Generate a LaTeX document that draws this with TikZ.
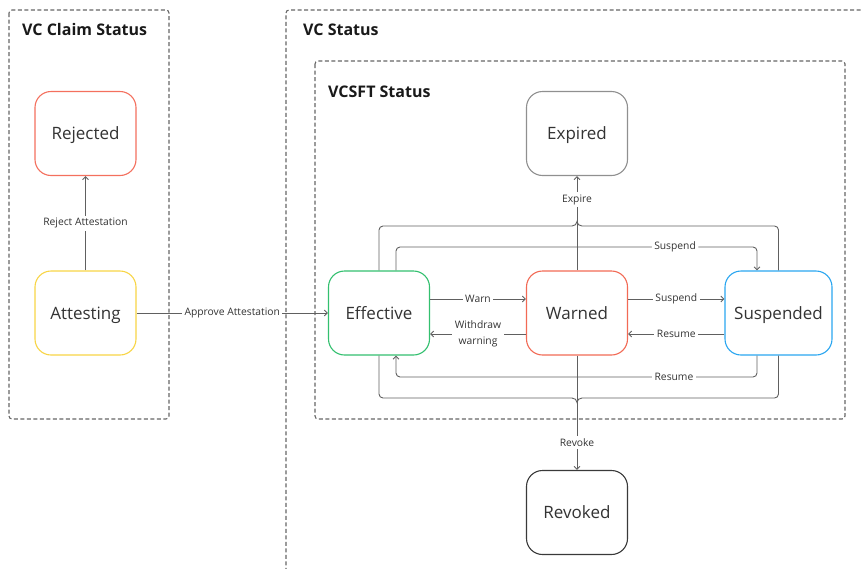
\documentclass[tikz,border=0pt]{standalone}
\usepackage{fontspec}
\setmainfont{Open Sans}
\usetikzlibrary{arrows.meta}
\definecolor{rejred}{HTML}{F4705E}
\definecolor{attyel}{HTML}{F8D546}
\definecolor{effgreen}{HTML}{33C06F}
\definecolor{warnred}{HTML}{F26A55}
\definecolor{susblue}{HTML}{2AA6F0}
\definecolor{expgray}{HTML}{909090}
\definecolor{revdark}{HTML}{3A3A3A}
\definecolor{linegray}{HTML}{606060}
\definecolor{txtgray}{HTML}{333333}
\tikzset{
  state/.style={draw, fill=white, rounded corners=16pt, minimum width=101pt, minimum height=84pt, line width=1.1pt, font=\fontsize{17}{20}\selectfont, text=txtgray, inner sep=0pt, text height=12pt, text depth=0pt},
  conn/.style={draw=linegray, line width=0.9pt, -{Straight Barb[length=3pt,width=6pt]}},
  plain/.style={draw=linegray, line width=0.9pt},
  lbl/.style={fill=white, font=\fontsize{10.3}{13}\selectfont, text=txtgray, inner sep=2.5pt},
  group/.style={draw=black!60, dash pattern=on 4pt off 2.5pt, line width=1.1pt, rounded corners=3pt},
  title/.style={font=\bfseries\fontsize{16}{19}\selectfont, anchor=west, text=black!90, inner sep=0pt, text height=11.5pt, text depth=0pt},
}
\begin{document}
\begin{tikzpicture}[x=1pt,y=-1pt]
\useasboundingbox (0,0) rectangle (862,568);
% groups
\draw[group] (9,10) rectangle (169,419);
\draw[group] (880,10) -- (286,10) -- (286,590);
\draw[group] (315,61) rectangle (845,419);
\node[title] (t1) at (22,30) {VC Claim Status};
\node[title] (t2) at (303,30) {VC Status};
\node[title] (t3) at (328,92) {VCSFT Status};
% states
\node[state, draw=rejred] (rej) at (85.5,133.5) {Rejected};
\node[state, draw=attyel] (att) at (85.5,313) {Attesting};
\node[state, draw=effgreen] (eff) at (379,313) {Effective};
\node[state, draw=warnred] (warn) at (577,313) {Warned};
\node[state, draw=susblue, minimum width=107pt] (sus) at (778.5,313) {Suspended};
\node[state, draw=expgray] (exp) at (577,133.5) {Expired};
\node[state, draw=revdark] (rev) at (577,512.5) {Revoked};
% claim edges
\draw[conn] (att.north) -- node[lbl]{Reject Attestation} (rej.south);
\draw[conn] (att.east) -- node[lbl]{Approve Attestation} (eff.west);
% bracket around VCSFT states
\draw[plain, rounded corners=4pt] (eff.north) |- (572,226);
\draw[plain] (572,226) to[out=0,in=-90] (577,221.5) to[out=-90,in=180] (582,226);
\draw[plain, rounded corners=4pt] (582,226) -| (sus.north);
\draw[plain, rounded corners=4pt] (eff.south) |- (572,398);
\draw[plain] (572,398) to[out=0,in=90] (577,402.5) to[out=90,in=180] (582,398);
\draw[plain, rounded corners=4pt] (582,398) -| (sus.south);
% loops
\draw[conn, rounded corners=4pt] (eff.north -| 396,0) -- (396,247) -- node[lbl, pos=0.773]{Suspend} (757,247) -- (sus.north -| 757,0);
\draw[conn, rounded corners=4pt] (sus.south -| 757,0) -- (757,377) -- node[lbl, pos=0.23]{Resume} (396,377) -- (eff.south -| 396,0);
% horizontal edges
\draw[conn] (eff.east |- 0,299) -- node[lbl]{Warn} (warn.west |- 0,299);
\draw[conn] (warn.west |- 0,334) -- node[lbl, align=center, font=\fontsize{10.3}{16}\selectfont]{Withdraw\\warning} (eff.east |- 0,334);
\draw[conn] (warn.east |- 0,299) -- node[lbl]{Suspend} (sus.west |- 0,299);
\draw[conn] (sus.west |- 0,334) -- node[lbl]{Resume} (warn.east |- 0,334);
% expire / revoke
\draw[conn] (warn.north) -- node[lbl, pos=0.747]{Expire} (exp.south);
\draw[conn] (warn.south) -- node[lbl, pos=0.757]{Revoke} (rev.north);
\end{tikzpicture}
\end{document}
